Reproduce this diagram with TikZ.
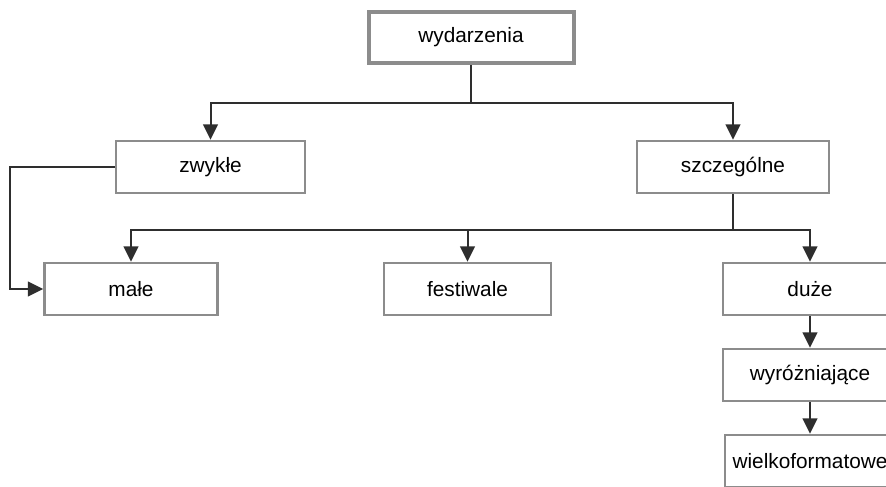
\documentclass[tikz,border=0pt]{standalone}
\usepackage{fontspec}
\setmainfont{Liberation Sans}
\usetikzlibrary{arrows.meta}
\definecolor{boxline}{HTML}{8C8C8C}
\definecolor{wire}{HTML}{2E2E2E}
\begin{document}
\begin{tikzpicture}[x=0.75pt,y=-0.75pt,
  box/.style={draw=boxline,line width=1.9pt,fill=white,inner sep=0pt,
    minimum height=39pt,font=\fontsize{15.6}{18}\selectfont},
  topbox/.style={box,line width=3pt},
  wireline/.style={draw=wire,line width=1.5pt},
  arr/.style={wireline,-{Triangle[length=11.5pt,width=11pt]}}]
\useasboundingbox (0,0) rectangle (886,486);
\clip (0,0) rectangle (886,486);
% boxes
\node[topbox,minimum width=153.75pt,minimum height=38.25pt] (wyd) at (471,37.5) {wydarzenia};
\node[box,minimum width=141.75pt] (zw) at (210.5,167) {zwykłe};
\node[box,minimum width=144pt] (sz) at (733,167) {szczególne};
\node[box,minimum width=129.75pt] (male) at (131,289) {małe};
\node[box,minimum width=125.25pt] (fest) at (467.5,289) {festiwale};
\node[box,minimum width=130.5pt] (duze) at (810,289) {duże};
\node[box,minimum width=130.5pt] (wyr) at (810,375) {wyróżniające};
\node[box,minimum width=127.5pt] (wielk) at (810,461) {wielkoformatowe};
% junction points
\coordinate (bus1) at (wyd.south |- {(0,103)});
\coordinate (bus2) at (sz.south |- {(0,230)});
\coordinate (lft) at (10,167);
% connectors
\draw[wireline] (wyd.south) -- (bus1);
\draw[arr] (bus1) -| (zw.north);
\draw[arr] (bus1) -| (sz.north);
\draw[wireline] (sz.south) -- (bus2);
\draw[arr] (bus2) -| (male.north);
\draw[arr] (bus2) -| (fest.north);
\draw[arr] (bus2) -| (duze.north);
\draw[arr] (zw.west) -- (lft) |- (male.west);
\draw[arr] (duze.south) -- (wyr.north);
\draw[arr] (wyr.south) -- (wielk.north);
\end{tikzpicture}
\end{document}
